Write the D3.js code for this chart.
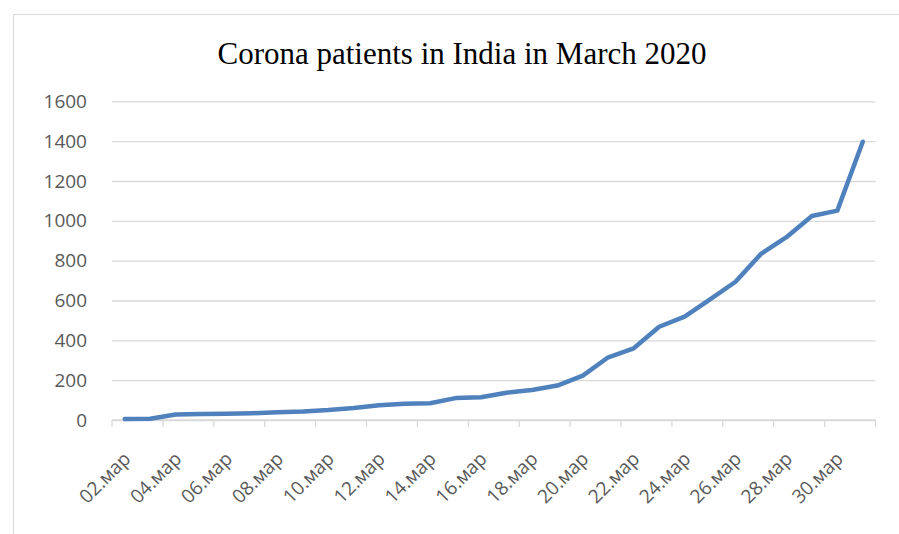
<!DOCTYPE html>
<html>
<head>
<meta charset="utf-8">
<script src="https://cdn.jsdelivr.net/npm/d3@7"></script>
<style>
  body { margin: 0; background: #fff; }
  svg { display: block; }
</style>
</head>
<body>
<svg id="chart" width="899" height="534"></svg>
<script>
// days of March 2020 shown on the category axis
var days = ["02","03","04","05","06","07","08","09","10","11","12","13","14","15","16",
            "17","18","19","20","21","22","23","24","25","26","27","28","29","30","31"];
var labels = days.map(d => d + ".мар");
// confirmed patients
var patients = [5, 6, 28, 30, 31, 34, 39, 43, 50, 60, 74, 81, 84, 110, 114,
                137, 151, 173, 223, 315, 360, 468, 519, 606, 694, 834, 918, 1024, 1051, 1397];
var yTicks = [0, 200, 400, 600, 800, 1000, 1200, 1400, 1600];
var title = "Corona patients in India in March 2020";

var svg = d3.select("#chart"),
    margin = {top: 101.3, left: 112, bottom: 114, right: 23},
    width = +svg.attr("width"),
    height = +svg.attr("height");

var grey = "#d9d9d9", labelCol = "#595959", lineCol = "#4f81bd";
var labelFont = "'Open Sans', sans-serif";

// chart area border
svg.append("rect")
    .attr("x", 13.5).attr("y", 14.5)
    .attr("width", width).attr("height", height)
    .attr("fill", "none").attr("stroke", grey).attr("stroke-width", 1);

var x = d3.scaleBand()
    .domain(labels)
    .range([margin.left, width - margin.right - 0.5])
    .padding(0);

var y = d3.scaleLinear()
    .domain([0, 1600])
    .range([height - margin.bottom, margin.top]);

// y axis = gridlines + labels
var yAxis = svg.append("g")
    .attr("transform", `translate(${margin.left},0)`)
    .call(d3.axisLeft(y).tickValues(yTicks).tickFormat(d3.format("d"))
        .tickSize(-(x.range()[1] - margin.left)).tickPadding(25));
yAxis.select(".domain").remove();
yAxis.selectAll("line").attr("stroke", grey).attr("stroke-width", 1.3);
yAxis.selectAll("text")
    .attr("fill", labelCol)
    .style("font-family", labelFont)
    .style("font-size", "19px");

// category axis: tick every second boundary
var xAxisY = y(0);
var bounds = labels.filter((d, i) => i % 2 == 0).map(d => x(d)).concat([x.range()[1]]);
var xg = svg.append("g");
xg.append("line")
    .attr("x1", x.range()[0]).attr("x2", x.range()[1])
    .attr("y1", xAxisY).attr("y2", xAxisY)
    .attr("stroke", grey).attr("stroke-width", 1.3);
xg.selectAll("line.tick").data(bounds).enter().append("line")
    .attr("class", "tick")
    .attr("x1", d => d).attr("x2", d => d)
    .attr("y1", xAxisY).attr("y2", xAxisY + 7)
    .attr("stroke", grey).attr("stroke-width", 1.3);
xg.selectAll("text").data(labels.filter((d, i) => i % 2 == 0)).enter().append("text")
    .attr("transform", d => `translate(${x(d) + x.bandwidth() / 2 + 7},${xAxisY + 40}) rotate(-45)`)
    .attr("text-anchor", "end")
    .attr("fill", labelCol)
    .style("font-family", labelFont)
    .style("font-size", "19px")
    .text(d => d);

// the series line
var line = d3.line()
    .x((d, i) => x(labels[i]) + x.bandwidth() / 2)
    .y(d => y(d));
svg.append("path")
    .datum(patients)
    .attr("d", line)
    .attr("fill", "none")
    .attr("stroke", lineCol)
    .attr("stroke-width", 4.5)
    .attr("stroke-linejoin", "round")
    .attr("stroke-linecap", "round");

svg.append("text")
    .attr("x", 462).attr("y", 64)
    .attr("text-anchor", "middle")
    .style("font-family", "'Liberation Serif', 'Times New Roman', serif")
    .style("font-size", "31px")
    .attr("fill", "#000")
    .text(title);
</script>
</body>
</html>
